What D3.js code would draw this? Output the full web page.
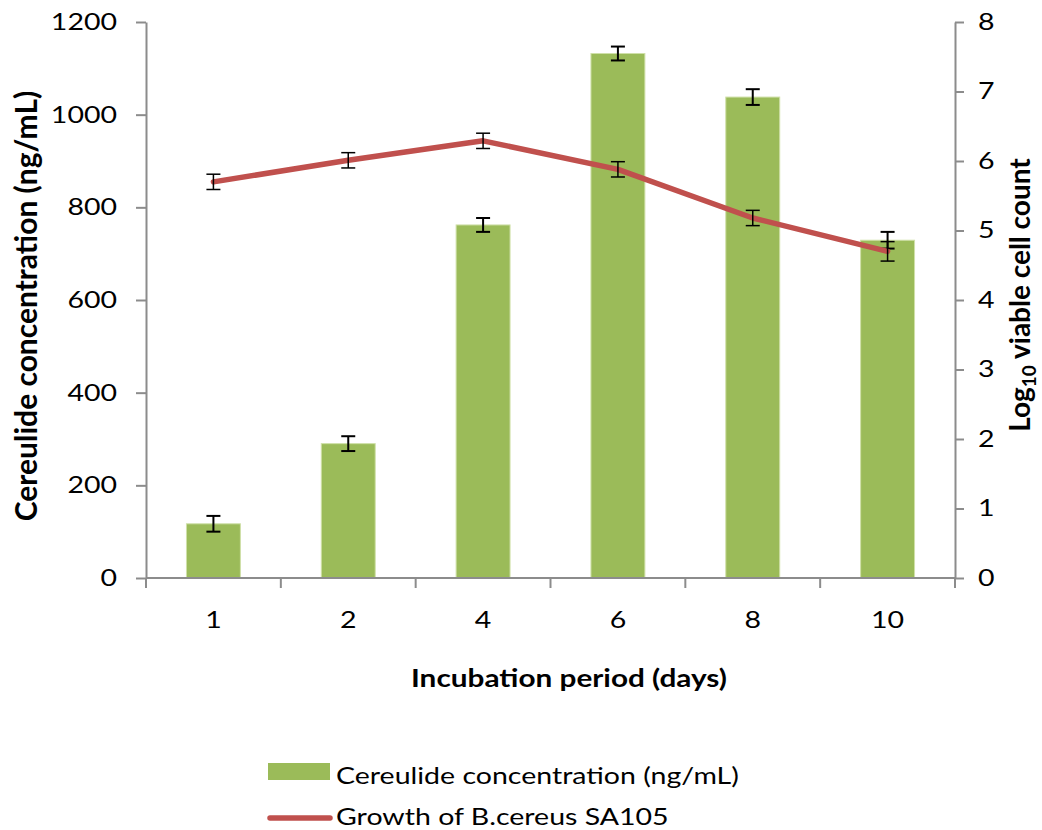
<!DOCTYPE html>
<html>
<head>
<meta charset="utf-8">
<script src="https://cdn.jsdelivr.net/npm/d3@7.9.0/dist/d3.min.js"></script>
<style>
  body { margin: 0; background: #fff; }
  svg { font-family: Lato, "Open Sans", sans-serif; }
</style>
</head>
<body>
<svg id="chart" width="1042" height="830"></svg>
<script>
// ---- data ----
const days = ["1", "2", "4", "6", "8", "10"];
const cereulide = [117, 290, 762, 1132, 1038, 729];      // ng/mL
const cereulideErr = [17, 16, 15, 15, 17, 18];
const growth = [5.70, 6.01, 6.29, 5.88, 5.18, 4.70];     // log10 cfu
const growthErr = [0.11, 0.11, 0.11, 0.11, 0.11, 0.14];
const leftTicks = [0, 200, 400, 600, 800, 1000, 1200];
const rightTicks = [0, 1, 2, 3, 4, 5, 6, 7, 8];

const green = "#9bbb59", red = "#c0504d", axisGrey = "#8c8c8c";
const svg = d3.select("#chart");

const plotLeft = 146, plotRight = 955, plotTop = 22, plotBottom = 578;
const wide = 1.24; // the source picture is stretched sideways

// stretch a text horizontally around its own x anchor
function stretch(sel, k = wide) {
  sel.each(function () {
    const t = d3.select(this);
    const x0 = +t.attr("x") || 0;
    t.attr("transform", `translate(${x0},0) scale(${k},1) translate(${-x0},0)`);
  });
}

const x = d3.scaleBand().domain(days).range([plotLeft, plotRight]).paddingInner(0).paddingOuter(0);
const yL = d3.scaleLinear().domain([0, 1200]).range([plotBottom, plotTop]);
const yR = d3.scaleLinear().domain([0, 8]).range([plotBottom, plotTop]);

// bars
const barW = x.bandwidth() * 0.4;
svg.append("g").selectAll("rect")
  .data(cereulide)
  .join("rect")
  .attr("x", (d, i) => x(days[i]) + (x.bandwidth() - barW) / 2)
  .attr("y", d => yL(d))
  .attr("width", barW)
  .attr("height", d => yL(0) - yL(d))
  .attr("fill", green)
  .attr("stroke", "#cfe0a8")
  .attr("stroke-width", 1);

// error bars helper
function errBars(vals, errs, scale, width) {
  const g = svg.append("g").attr("stroke", "#000").attr("stroke-width", width);
  vals.forEach((v, i) => {
    const cx = x(days[i]) + x.bandwidth() / 2;
    const y1 = scale(v + errs[i]), y2 = scale(v - errs[i]);
    g.append("line").attr("x1", cx).attr("x2", cx).attr("y1", y1).attr("y2", y2);
    g.append("line").attr("x1", cx - 7).attr("x2", cx + 7).attr("y1", y1).attr("y2", y1);
    g.append("line").attr("x1", cx - 7).attr("x2", cx + 7).attr("y1", y2).attr("y2", y2);
  });
}
errBars(cereulide, cereulideErr, yL, 2);

// growth line
const line = d3.line()
  .x((d, i) => x(days[i]) + x.bandwidth() / 2)
  .y(d => yR(d));
svg.append("path")
  .datum(growth)
  .attr("d", line)
  .attr("fill", "none")
  .attr("stroke", red)
  .attr("stroke-width", 5.5)
  .attr("stroke-linejoin", "round")
  .attr("stroke-linecap", "round");
errBars(growth, growthErr, yR, 1.5);

// axes
function styleAxis(g) {
  g.selectAll(".domain").attr("stroke", axisGrey).attr("stroke-width", 2);
  g.selectAll(".tick line").attr("stroke", axisGrey).attr("stroke-width", 2);
  g.selectAll("text").attr("fill", "#000").attr("font-size", 23).attr("font-family", "Lato, sans-serif")
    .call(stretch);
}

svg.append("g")
  .attr("transform", `translate(${plotLeft},0)`)
  .call(d3.axisLeft(yL).tickValues(leftTicks).tickFormat(d3.format("d"))
    .tickSize(10).tickPadding(19).tickSizeOuter(0))
  .call(styleAxis);

svg.append("g")
  .attr("transform", `translate(${plotRight},0)`)
  .call(d3.axisRight(yR).tickValues(rightTicks).tickFormat(d3.format("d"))
    .tickSize(9).tickPadding(14).tickSizeOuter(0))
  .call(styleAxis);

const xAxis = svg.append("g")
  .attr("transform", `translate(0,${plotBottom})`)
  .call(d3.axisBottom(x).tickSize(0).tickPadding(34))
  .call(styleAxis);
// category boundary ticks
const bounds = days.map(d => x(d)).concat([plotRight]);
xAxis.append("g").selectAll("line")
  .data(bounds)
  .join("line")
  .attr("x1", d => d).attr("x2", d => d)
  .attr("y1", 0).attr("y2", 10)
  .attr("stroke", axisGrey).attr("stroke-width", 2);
xAxis.select(".domain").attr("d", `M${plotLeft},0H${plotRight}`);

// axis titles
svg.append("text")
  .attr("transform", `translate(37,306) rotate(-90)`)
  .attr("text-anchor", "middle")
  .attr("font-size", 30).attr("font-weight", "bold")
  .text("Cereulide concentration (ng/mL)");

const rt = svg.append("text")
  .attr("transform", `translate(1030,295) rotate(-90)`)
  .attr("text-anchor", "middle")
  .attr("font-size", 28).attr("font-weight", "bold");
rt.append("tspan").text("Log");
rt.append("tspan").attr("font-size", 19).attr("dy", 6).text("10");
rt.append("tspan").attr("dy", -6).text(" viable cell count");

svg.append("text")
  .attr("x", 569).attr("y", 687)
  .attr("text-anchor", "middle")
  .attr("font-size", 24).attr("font-weight", "bold")
  .text("Incubation period (days)")
  .call(stretch);

// legend
const legend = svg.append("g");
legend.append("rect")
  .attr("x", 268).attr("y", 763).attr("width", 62).attr("height", 17)
  .attr("fill", green);
legend.append("text")
  .attr("x", 336).attr("y", 784).attr("font-size", 23)
  .text("Cereulide concentration (ng/mL)")
  .call(stretch);
legend.append("line")
  .attr("x1", 270).attr("x2", 330).attr("y1", 818).attr("y2", 818)
  .attr("stroke", red).attr("stroke-width", 5.5).attr("stroke-linecap", "round");
legend.append("text")
  .attr("x", 336).attr("y", 825).attr("font-size", 23)
  .text("Growth of B.cereus SA105")
  .call(stretch);
</script>
</body>
</html>
